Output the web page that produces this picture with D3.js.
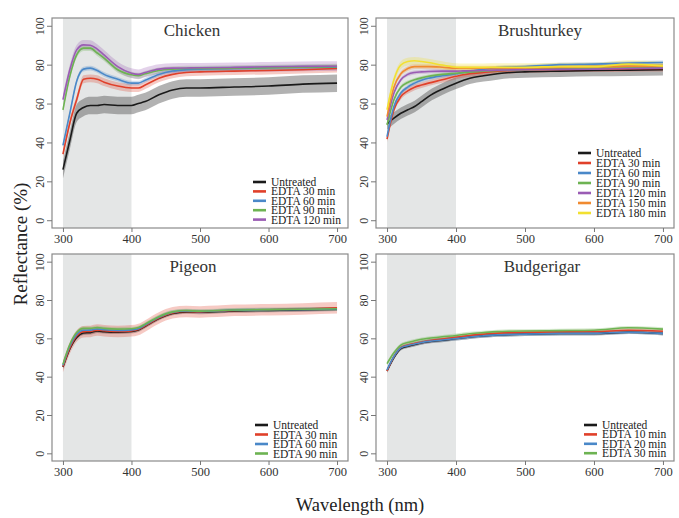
<!DOCTYPE html>
<html><head><meta charset="utf-8">
<script src="https://cdn.jsdelivr.net/npm/d3@7"></script>
<style>body{margin:0;background:#fff}svg{display:block}svg text{font-family:"Liberation Serif","Times New Roman",serif}</style>
</head><body>
<svg id="c" width="679" height="518"></svg>
<script>
// ---------- DATA ----------
const wavelengths = [300,310,320,330,340,350,360,380,400,410,420,440,460,480,500,550,600,650,700];
const xTicks = [300,400,500,600,700];
const yTicks = [0,20,40,60,80,100];
const panelTitles = ["Chicken","Brushturkey","Pigeon","Budgerigar"];

const chickenLabels = ["Untreated","EDTA 30 min","EDTA 60 min","EDTA 90 min","EDTA 120 min"];
const chickenUntreated = [26,41,55,58,59,59,59.5,59,59,60,61,64.5,67,68,68,68.5,69,70,70.5];
const chicken30 = [34,50,62,72.5,73,72.5,71,69,68,68,69.5,73,75,76,76.3,76.7,77,77.4,78];
const chicken60 = [38.5,55,71.5,77.7,78.2,77,75,72.5,70.5,70.5,72,75,76.7,77.4,77.7,78,78.4,78.6,78.7];
const chicken90 = [56.8,74,85,88.5,88.5,86,83.4,77.4,74.8,74.3,75.3,77,77.7,78,78,78.2,78.4,78.7,79];
const chicken120 = [62,77.4,87.6,90.2,90,88,85,79,75.6,75,76,77.7,78.2,78.3,78.4,78.6,78.9,79.1,79.2];
const chickenSpread = [4.5,2,1.2,1.5,2.5];

const turkeyLabels = ["Untreated","EDTA 30 min","EDTA 60 min","EDTA 90 min","EDTA 120 min","EDTA 150 min","EDTA 180 min"];
const turkeyUntreated = [49.6,52.5,55,56.8,58.5,61,63.6,67.4,70.5,71.8,73,74.3,75.3,76,76.3,76.7,77,77.2,77.4];
const turkey30 = [41.7,56.8,63.6,66.5,68.4,69.5,70.5,72.2,74,74.8,75.3,76,76.7,77,77.4,77.6,77.7,77.9,78];
const turkey60 = [43,58.5,65.4,68.5,70.5,72,73,74.3,75.3,76,76.5,77.7,78.5,78.8,79,80,80.3,80.8,81.1];
const turkey90 = [49,62,68.4,70.8,72.2,73.2,74,75,75.6,75.9,76.2,76.7,77,77.2,77.4,77.7,78,78.2,78.4];
const turkey120 = [51.6,65.4,72.2,75,76,76.3,76.5,76.7,76.7,76.8,76.9,77,77.2,77.3,77.4,77.6,77.7,78,78.2];
const turkey150 = [53.3,68.4,75.3,78,79,79,79,78.7,78.2,78.2,78.2,78.2,78.3,78.3,78.4,78.7,79,79.2,79.4];
const turkey180 = [56.8,72.2,79.8,81.6,82,81.6,81.1,79.8,78.7,78.6,78.6,78.6,78.7,78.7,78.7,79,79,80.3,79.4];
const turkeySpread = [3,1.5,1,1,1,1.2,2];

const pigeonLabels = ["Untreated","EDTA 30 min","EDTA 60 min","EDTA 90 min"];
const pigeonUntreated = [45,54.5,60.5,62.8,63,63.8,63.5,63.2,63.6,64.3,66.3,70.3,73,73.8,73.6,74.3,74.6,74.9,75.2];
const pigeon30 = [45.3,55,61.2,63.5,63.6,64.3,64,63.6,63.9,64.6,66.5,70.6,73.3,74,73.8,74.6,74.9,75.3,75.9];
const pigeon60 = [46,56,62,64.2,64.3,64.9,64.5,64.1,64.4,65,67,71,73.6,74.3,74,74.7,74.9,75.1,75.3];
const pigeon90 = [46.5,56.8,63,65.2,65.2,65.6,65.2,64.8,65,65.6,67.4,71.3,73.8,74.5,74.2,74.8,75,75.2,75.4];
const pigeonSpread = [1,3,1,1];

const budgieLabels = ["Untreated","EDTA 10 min","EDTA 20 min","EDTA 30 min"];
const budgieUntreated = [43,50,54.7,55.9,56.8,57.7,58.3,59,59.9,60.3,60.7,61.3,61.8,62,62.2,62.5,62.5,63.2,62.5];
const budgie10 = [43,50.5,55.2,56.5,57.3,58,58.7,59.6,60.5,61,61.5,62.2,62.7,63,63.1,63.4,63.5,64.2,63.7];
const budgie20 = [43.5,50.5,55,56.2,57,57.8,58.4,59.1,59.9,60.3,60.7,61.3,61.8,62,62.2,62.5,62.6,63.2,62.6];
const budgie30 = [46.8,52.5,56.5,57.8,58.7,59.5,60,60.8,61.5,62,62.4,63,63.5,63.7,63.8,64,64.2,65.5,64.8];
const budgieSpread = [1,1,1,1];

// ---------- STYLE / LAYOUT ----------
const colors = ["#1a1a1a","#e0402a","#4a88c8","#6db352","#9a5cb4","#f08a30","#f2e030"];
const font = "Liberation Serif, Times New Roman, serif";

const panels = [
  {title:panelTitles[0], labels:chickenLabels, series:[chickenUntreated,chicken30,chicken60,chicken90,chicken120], spread:chickenSpread,
   box:[52,348,18,228], titleX:192, leg:{x:253,y:182,dy:9.4}},
  {title:panelTitles[1], labels:turkeyLabels, series:[turkeyUntreated,turkey30,turkey60,turkey90,turkey120,turkey150,turkey180], spread:turkeySpread,
   box:[376,674,18,228], titleX:540, leg:{x:578,y:153,dy:10}},
  {title:panelTitles[2], labels:pigeonLabels, series:[pigeonUntreated,pigeon30,pigeon60,pigeon90], spread:pigeonSpread,
   box:[52,348,254,461], titleX:193, leg:{x:255,y:425,dy:9.5}},
  {title:panelTitles[3], labels:budgieLabels, series:[budgieUntreated,budgie10,budgie20,budgie30], spread:budgieSpread,
   box:[376,674,254,461], titleX:542, leg:{x:584,y:425,dy:9.4}}
];

const svg = d3.select("#c");

panels.forEach((p,pi)=>{
  const [x0,x1,y0,y1] = p.box;
  const x = d3.scaleLinear().domain([284,716]).range([x0,x1]);
  const y = d3.scaleLinear().domain([-4,104]).range([y1,y0]);
  const g = svg.append("g");
  const clipId = "clip"+pi;
  g.append("clipPath").attr("id",clipId).append("rect")
    .attr("x",x0).attr("y",y0).attr("width",x1-x0).attr("height",y1-y0);

  // UV shading
  g.append("rect").attr("x",x(300)).attr("y",y0).attr("width",x(400)-x(300)).attr("height",y1-y0)
    .attr("fill","#e4e6e6");

  const plot = g.append("g").attr("clip-path",`url(#${clipId})`);
  const area = (vals,s)=> d3.area().curve(d3.curveMonotoneX)
      .x((d,i)=>x(wavelengths[i])).y0((d)=>y(d-s)).y1((d)=>y(d+s))(vals);
  const line = d3.line().curve(d3.curveMonotoneX).x((d,i)=>x(wavelengths[i])).y(d=>y(d));

  p.series.forEach((vals,si)=>{
    plot.append("path").attr("d",area(vals,p.spread[si]))
      .attr("fill", si===0 ? "#555" : colors[si]).attr("fill-opacity", si===0?0.45:0.28);
  });
  p.series.forEach((vals,si)=>{
    plot.append("path").attr("d",line(vals)).attr("fill","none")
      .attr("stroke",colors[si]).attr("stroke-width",1.6);
  });

  // box
  g.append("rect").attr("x",x0).attr("y",y0).attr("width",x1-x0).attr("height",y1-y0)
    .attr("fill","none").attr("stroke","#8a8a8a").attr("stroke-width",1.2);

  // x axis
  const xa = g.append("g").attr("transform",`translate(0,${y1})`)
    .call(d3.axisBottom(x).tickValues(xTicks).tickSize(4).tickPadding(2).tickFormat(d3.format("d")));
  xa.attr("font-family",font);
  xa.select(".domain").remove();
  xa.selectAll("line").attr("stroke","#777");
  xa.selectAll("text").attr("font-family",font).attr("font-size",12.5).attr("fill","#333");

  // y axis
  const ya = g.append("g").attr("transform",`translate(${x0},0)`)
    .call(d3.axisLeft(y).tickValues(yTicks).tickSize(5).tickFormat(d3.format("d")));
  ya.attr("font-family",font);
  ya.select(".domain").remove();
  ya.selectAll("line").attr("stroke","#777");
  ya.selectAll("text").attr("font-family",font).attr("font-size",12).attr("fill","#333")
    .attr("text-anchor","middle").attr("x",0).attr("dy",0)
    .attr("transform","translate(-11,0) rotate(-90)").attr("dominant-baseline","middle");

  // title
  g.append("text").attr("x",p.titleX).attr("y",y0+18)
    .attr("text-anchor","middle").attr("font-family",font).attr("font-size",17).attr("fill","#333")
    .text(p.title);

  // legend
  p.labels.forEach((lab,li)=>{
    const ly = p.leg.y + li*p.leg.dy;
    g.append("line").attr("x1",p.leg.x).attr("x2",p.leg.x+13).attr("y1",ly).attr("y2",ly)
      .attr("stroke",colors[li]).attr("stroke-width",2.6);
    g.append("text").attr("x",p.leg.x+18).attr("y",ly+4).attr("font-family",font)
      .attr("font-size",11.5).attr("fill","#222").text(lab);
  });
});

// axis titles
svg.append("text").attr("transform","translate(27,244) rotate(-90)").attr("text-anchor","middle")
  .attr("font-family",font).attr("font-size",19).attr("fill","#222").text("Reflectance (%)");
svg.append("text").attr("x",360).attr("y",511).attr("text-anchor","middle")
  .attr("font-family",font).attr("font-size",18.5).attr("fill","#222").text("Wavelength (nm)");
</script>
</body></html>
